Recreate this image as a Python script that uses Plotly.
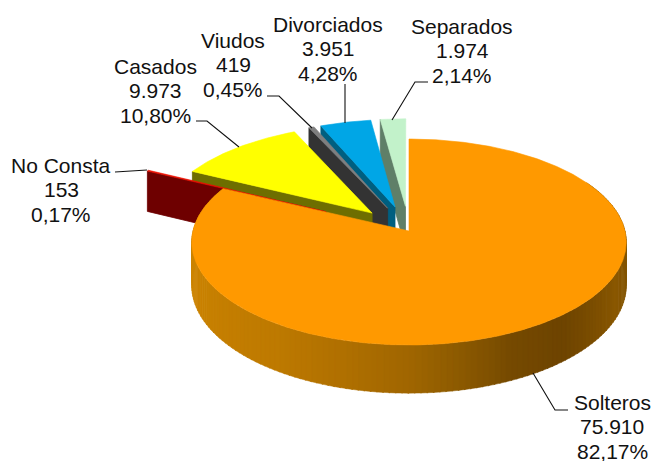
import math
import numpy as np
import plotly.graph_objects as go

# ---- data ----
categories = ["Solteros", "No Consta", "Casados", "Viudos", "Divorciados", "Separados"]
counts = [75910, 153, 9973, 419, 3951, 1974]
count_labels = ["75.910", "153", "9.973", "419", "3.951", "1.974"]
percent_labels = ["82,17%", "0,17%", "10,80%", "0,45%", "4,28%", "2,14%"]

# ---- styles ----
explode = [0.0, 0.437, 0.25, 0.25, 0.25, 0.25]
top_colors = ["#FF9900", "#F01000", "#FFFF00", "#7F7F7F", "#00A6E6", "#C2F2CA"]
wall_colors = ["#B87700", "#6E0000", "#6E6E00", "#333333", "#005F80", "#5F7F68"]
label_pos = [(612, 402), (61, 165), (155, 66), (233, 40), (328, 24), (462, 26)]
leaders = [
    [(533, 373), (555, 410), (568, 410)],
    [(115, 172), (147, 170)],
    [(196, 121), (207, 121), (239, 147)],
    [(267, 96), (279, 96), (312, 128)],
    [(345, 84), (345, 123)],
    [(428, 82), (415, 82), (392, 120)],
]
CX, CY, RX, KY, P, DEPTH = 409.0, 231.0, 216.0, 101.8, 0.107, 43.0
LINE_H = 24.5


def project(X, Y, drop=0.0):
    f = 1.0 / (1.0 + P * Y)
    return CX + RX * X * f, CY - KY * Y * f + DEPTH * f * drop


def poly(fig, pts, color, edge=None, width=0.8):
    xs = [p[0] for p in pts] + [pts[0][0]]
    ys = [p[1] for p in pts] + [pts[0][1]]
    fig.add_trace(go.Scatter(x=xs, y=ys, mode="lines", fill="toself", fillcolor=color,
                             line=dict(color=edge or color, width=width),
                             hoverinfo="skip", showlegend=False))


# shading of Solteros' rim: angle (deg clockwise from 12) -> colour
SHADE_ANG = [60, 100, 114, 139, 154, 167, 179, 195, 213, 258, 295]
SHADE_RGB = [(130, 85, 0), (130, 85, 0), (138, 88, 0), (110, 68, 0), (118, 74, 0), (140, 90, 0),
             (160, 102, 0), (176, 112, 0), (190, 122, 0), (205, 132, 0), (205, 132, 0)]


def shade(a):
    return "rgb(%d,%d,%d)" % tuple(
        int(np.interp(a, SHADE_ANG, [c[i] for c in SHADE_RGB])) for i in range(3))


total = sum(counts)
spans = []
a = 0.0
for c in counts:
    spans.append((a, a + 360.0 * c / total))
    a = spans[-1][1]

fig = go.Figure()
paint_order = [5, 4, 3, 2, 1, 0]
for i in paint_order:
    a0, a1 = spans[i]
    mid = math.radians((a0 + a1) / 2)
    ox, oy = explode[i] * math.sin(mid), explode[i] * math.cos(mid)
    angs = np.radians(np.linspace(a0, a1, max(3, int(a1 - a0) * 2)))
    rim = [(ox + math.sin(t), oy + math.cos(t)) for t in angs]

    if i == 0:
        # outer rim seen from the front, drawn in narrow shaded strips
        strip = np.arange(60.0, 295.8, 1.5)
        for s0, s1 in zip(strip[:-1], strip[1:]):
            t0, t1 = math.radians(s0), math.radians(s1 + 0.3)
            q0, q1 = (math.sin(t0), math.cos(t0)), (math.sin(t1), math.cos(t1))
            poly(fig, [project(*q0), project(*q1), project(*q1, 1), project(*q0, 1)], shade(s0), width=0.5)
    else:
        # the cut face on the side of the starting angle looks towards the viewer
        apex = (ox, oy)
        outer = rim[0]
        poly(fig, [project(*apex), project(*outer), project(*outer, 1), project(*apex, 1)], wall_colors[i])
    top = [project(ox, oy)] + [project(*p) for p in rim]
    poly(fig, top, top_colors[i], width=0.6)

for pts in leaders:
    fig.add_trace(go.Scatter(x=[p[0] for p in pts], y=[p[1] for p in pts], mode="lines",
                             line=dict(color="#111111", width=1.1), hoverinfo="skip", showlegend=False))

for name, cnt, pct, (lx, ly) in zip(categories, count_labels, percent_labels, label_pos):
    for k, txt in enumerate([name, cnt, pct]):
        fig.add_annotation(x=lx, y=ly + k * LINE_H, text=txt, showarrow=False, xanchor="center",
                           yanchor="middle", font=dict(family="Liberation Sans", size=21, color="#111111"))

fig.update_xaxes(range=[0, 652], visible=False, fixedrange=True)
fig.update_yaxes(range=[461, 0], visible=False, fixedrange=True)
fig.update_layout(width=652, height=461, margin=dict(l=0, r=0, t=0, b=0),
                  paper_bgcolor="white", plot_bgcolor="white", showlegend=False)
fig.write_html("out.html", config={"displayModeBar": False},
               post_script="document.body.style.margin='0';document.body.style.overflow='hidden';")
